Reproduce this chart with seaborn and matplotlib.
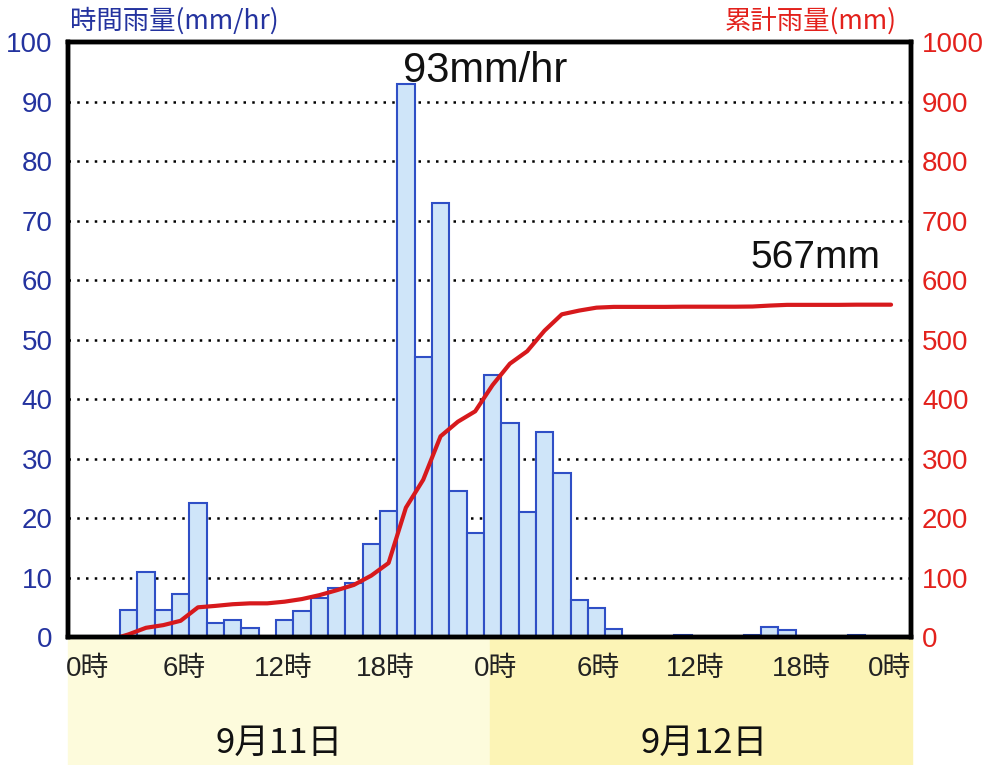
import numpy as np
import pandas as pd
import matplotlib.pyplot as plt
import seaborn as sns
from matplotlib import font_manager
from matplotlib.patches import Rectangle

# hourly rainfall (mm/hr), 9/11 0時 - 9/12 23時
hours = list(range(48))
hourly_rain = [0, 0, 0, 4.5, 11, 4.5, 7.3, 22.6, 2.4, 2.8,
               1.5, 0, 2.8, 4.4, 6.5, 8.3, 9.0, 15.6, 21.2, 93,
               47, 73, 24.5, 17.5, 44, 36, 21, 34.5, 27.5, 6.3,
               4.9, 1.3, 0, 0, 0, 0.3, 0, 0, 0, 0.3,
               1.6, 1.2, 0, 0, 0, 0.3, 0, 0]
rain_start = 3

hour_labels = ["0時", "6時", "12時", "18時", "0時", "6時", "12時", "18時", "0時"]
hour_label_pos = [0.6, 6.2, 11.9, 17.8, 24.2, 30.1, 35.7, 41.8, 46.9]
day_labels = ["9月11日", "9月12日"]
left_ticks = list(range(0, 101, 10))
right_ticks = list(range(0, 1001, 100))

df = pd.DataFrame({"hour": hours, "rain": hourly_rain})
cum = np.cumsum(hourly_rain)
line_x = [rain_start - 0.5] + hours[rain_start:]
line_y = [0] + list(cum[rain_start:])

sns.set_theme(style="white")
names = {f.name for f in font_manager.fontManager.ttflist}
narrow = "Liberation Sans Narrow" if "Liberation Sans Narrow" in names else "Liberation Sans"
plt.rcParams["font.family"] = ["Liberation Sans", "Noto Sans CJK JP", "DejaVu Sans"]

blue = "#24339f"
red = "#e3211c"

fig, ax = plt.subplots(figsize=(9.93, 7.65), dpi=100)
fig.subplots_adjust(left=0.0685, right=0.9174, bottom=0.1673, top=0.945)

# yellow band under the axis
fig.patches.append(Rectangle((68 / 993, 0), (490 - 68) / 993, 1 - 639 / 765,
                             transform=fig.transFigure, color="#fdfbdc", zorder=-1))
fig.patches.append(Rectangle((490 / 993, 0), (912 - 490) / 993, 1 - 639 / 765,
                             transform=fig.transFigure, color="#fcf4b6", zorder=-1))

sns.barplot(data=df, x="hour", y="rain", color="#cfe5f9", saturation=1, width=1,
            edgecolor="#2f4fc6", linewidth=1.5, errorbar=None, ax=ax)
ax.set_axisbelow(True)
ax.yaxis.grid(True, color="black", linestyle=(0, (1, 2.5)), linewidth=1.8)
ax.xaxis.grid(False)
ax.set_ylim(0, 100)
ax.set_yticks(left_ticks)
ax.set_yticklabels([str(t) for t in left_ticks], fontsize=20, color=blue, family=[narrow])
ax.set_xlabel("")
ax.set_ylabel("")

ax2 = ax.twinx()
sns.lineplot(x=line_x, y=line_y, color="#d7191c", linewidth=3, ax=ax2)
ax2.set_ylim(0, 1000)
ax2.set_yticks(right_ticks)
ax2.set_yticklabels([str(t) for t in right_ticks], fontsize=20, color=red, family=[narrow])
ax2.grid(False)

ax.set_xlim(-0.5, 48.15)
ax.set_xticks(hour_label_pos)
ax.set_xticklabels(hour_labels, fontsize=20, color="#222222",
                   family=[narrow, "Noto Sans CJK JP"])
ax.tick_params(axis="x", length=0, pad=14)
ax.tick_params(axis="y", length=0, pad=11)
ax2.tick_params(axis="y", length=0, pad=8)

for a in (ax, ax2):
    for s in a.spines.values():
        s.set_visible(True)
        s.set_color("black")
        s.set_linewidth(3.2)

# axis titles
fig.text(70 / 993, 1 - 21 / 765, "時間雨量(mm/hr)", color=blue, fontsize=19,
         va="center", ha="left", family=["Noto Sans CJK JP"])
fig.text(897 / 993, 1 - 21 / 765, "累計雨量(mm)", color=red, fontsize=19,
         va="center", ha="right", family=["Noto Sans CJK JP"])

# annotations
fig.text(403 / 993, 1 - 82 / 765, "93mm/hr", fontsize=30, color="#111111",
         va="baseline", ha="left")
fig.text(750 / 993, 1 - 268 / 765, "567mm", fontsize=28, color="#111111",
         va="baseline", ha="left")

# date labels
fig.text(279 / 993, 1 - 743 / 765, day_labels[0], fontsize=25, color="#111111",
         va="center", ha="center", family=["Noto Sans CJK JP"])
fig.text(704 / 993, 1 - 743 / 765, day_labels[1], fontsize=25, color="#111111",
         va="center", ha="center", family=["Noto Sans CJK JP"])

fig.savefig("out.png", dpi=100)
